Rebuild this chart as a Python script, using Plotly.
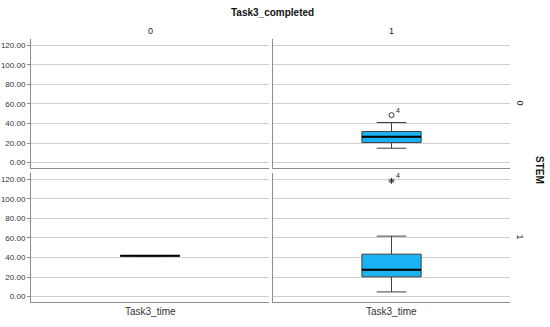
import plotly.graph_objects as go

# Data
col_labels = ["0", "1"]          # Task3_completed
row_labels = ["0", "1"]          # STEM
var_label = "Task3_time"
y_ticks = [0, 20, 40, 60, 80, 100, 120]

stats_r0c1 = dict(q1=20.5, median=26.4, q3=31.8, lower=14.7, upper=41.0)
stats_r1c0 = dict(q1=41.7, median=41.7, q3=41.7, lower=41.7, upper=41.7)
stats_r1c1 = dict(q1=20.2, median=27.4, q3=43.4, lower=4.8, upper=61.8)
outlier_r0c1 = [48.5]
outlier_r0c1_case = ["4"]
outlier_r1c1 = [118.3]
outlier_r1c1_case = ["4"]

W, H = 550, 327
box_w = 0.5
fill = "#1AB2F2"
FONT = "Arial, Liberation Sans, sans-serif"

def px(x):
    return x / W

def py(y):
    return 1 - y / H

fig = go.Figure()

xdom = [(31, 269), (273, 510)]
ydom = [(39, 168), (173, 302)]  # top row (STEM=0), bottom row (STEM=1)

panels = {}
idx = 1
for r in range(2):
    for c in range(2):
        panels[(r, c)] = idx
        xa = "xaxis" if idx == 1 else f"xaxis{idx}"
        ya = "yaxis" if idx == 1 else f"yaxis{idx}"
        fig.update_layout(**{
            xa: dict(domain=[px(xdom[c][0]), px(xdom[c][1])], range=[-1, 1],
                     anchor=f"y{idx if idx > 1 else ''}", showgrid=False,
                     zeroline=False, showticklabels=False, ticks="",
                     showline=True, linecolor="#8c8c8c", linewidth=1, fixedrange=True),
            ya: dict(domain=[py(ydom[r][1]), py(ydom[r][0])], range=[-5.5, 126.3],
                     anchor=f"x{idx if idx > 1 else ''}", tickvals=y_ticks,
                     ticktext=[f"{v:.2f}" for v in y_ticks],
                     showticklabels=(c == 0), ticks="outside" if c == 0 else "",
                     ticklen=3, tickcolor="#8c8c8c",
                     tickfont=dict(family=FONT, size=8, color="#333333"),
                     showgrid=True, gridcolor="#cfcfcf", gridwidth=1, zeroline=False,
                     showline=True, linecolor="#8c8c8c", linewidth=1, fixedrange=True),
        })
        fig.add_trace(go.Scatter(x=[None], y=[None], mode="markers",
                                 xaxis=f"x{idx if idx > 1 else ''}", yaxis=f"y{idx if idx > 1 else ''}",
                                 showlegend=False, hoverinfo="skip"))
        idx += 1

def axes_of(r, c):
    i = panels[(r, c)]
    return f"x{i if i > 1 else ''}", f"y{i if i > 1 else ''}"

def add_box(stats, r, c):
    xs, ys = axes_of(r, c)
    fig.add_trace(go.Box(x=[0], q1=[stats["q1"]], median=[stats["median"]], q3=[stats["q3"]],
                         lowerfence=[stats["lower"]], upperfence=[stats["upper"]],
                         width=box_w, whiskerwidth=0.5, fillcolor=fill,
                         line=dict(color="#404040", width=1), boxpoints=False,
                         xaxis=xs, yaxis=ys, showlegend=False, hoverinfo="skip"))
    fig.add_trace(go.Scatter(x=[-box_w / 2, box_w / 2], y=[stats["median"]] * 2, mode="lines",
                             line=dict(color="black", width=2), xaxis=xs, yaxis=ys,
                             showlegend=False, hoverinfo="skip"))

def add_outliers(vals, cases, symbol, size, r, c):
    xs, ys = axes_of(r, c)
    fig.add_trace(go.Scatter(x=[0] * len(vals), y=vals, mode="markers",
                             marker=dict(symbol=symbol, size=size,
                                         color="#333333", line=dict(color="#333333", width=1)),
                             xaxis=xs, yaxis=ys, showlegend=False, hoverinfo="skip"))
    for v, t in zip(vals, cases):
        fig.add_annotation(x=0, y=v, xref=xs, yref=ys, text=t, showarrow=False,
                           xshift=6, yshift=5, xanchor="center", yanchor="middle",
                           font=dict(family=FONT, size=7, color="#222222"))

add_box(stats_r0c1, 0, 1)
add_box(stats_r1c0, 1, 0)
add_box(stats_r1c1, 1, 1)
add_outliers(outlier_r0c1, outlier_r0c1_case, "circle-open", 5, 0, 1)
add_outliers(outlier_r1c1, outlier_r1c1_case, "asterisk-open", 5, 1, 1)

font = dict(family=FONT, size=9, color="#222222")

def label(x, y, text, f, angle=0):
    fig.add_annotation(x=px(x), y=py(y), xref="paper", yref="paper", text=text,
                       showarrow=False, textangle=angle, xanchor="center", yanchor="middle",
                       font=f)

label(272, 12, "<b>Task3_completed</b>", dict(family=FONT, size=10, color="#111111"))
for c, lab in enumerate(col_labels):
    cx = (xdom[c][0] + xdom[c][1]) / 2
    label(cx, 31, lab, font)
    label(cx, 311, var_label, dict(family=FONT, size=10, color="#333333"))
for r, lab in enumerate(row_labels):
    label(520, (ydom[r][0] + ydom[r][1]) / 2 - 1, lab, font, 90)
label(539, 170, "<b>STEM</b>", dict(family=FONT, size=10, color="#111111"), 90)

fig.update_layout(width=W, height=H, margin=dict(l=0, r=0, t=0, b=0),
                  paper_bgcolor="white", plot_bgcolor="white", showlegend=False)

fig.write_html("out.html", config={"displayModeBar": False},
               post_script="document.body.style.margin='0';")
